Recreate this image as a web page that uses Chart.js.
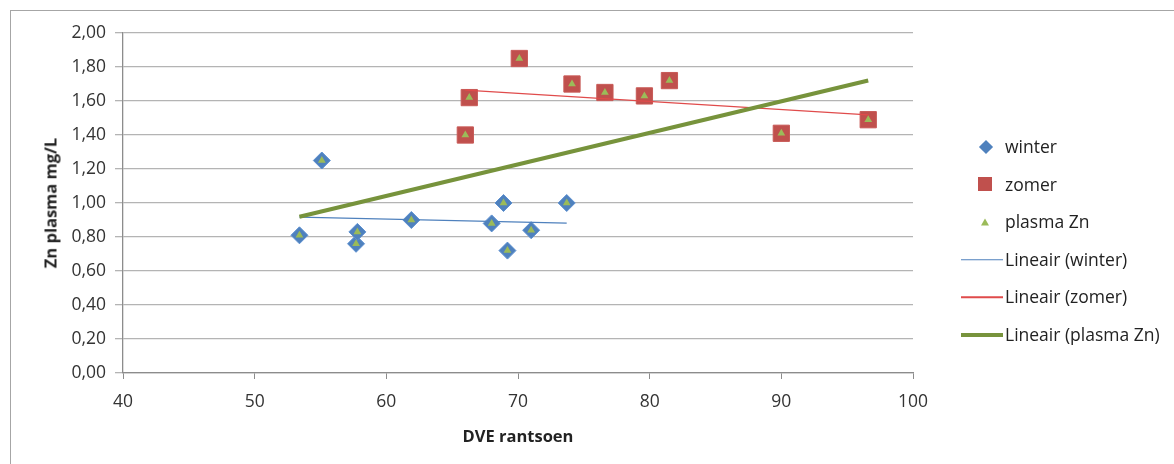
<!DOCTYPE html>
<html>
<head>
<meta charset="utf-8">
<script src="https://cdn.jsdelivr.net/npm/chart.js@4"></script>
<style>
  body { margin: 0; background: #fff; font-family: 'Open Sans', sans-serif; }
  #wrap { position: relative; width: 1174px; height: 464px; overflow: hidden; }
  #frame { position: absolute; left: 10px; top: 10px; width: 1200px; height: 500px; border: 1.5px solid #a6a6a6; }
  canvas { position: absolute; left: 0; top: 0; }
  .ytitle { position: absolute; left: 50px; top: 203px; transform: translate(-50%, -50%) rotate(-90deg);
            font-weight: bold; font-size: 16.5px; color: #222; white-space: nowrap; }
  .xtitle { position: absolute; left: 518px; top: 435px; transform: translate(-50%, -50%);
            font-weight: bold; font-size: 16.5px; color: #222; white-space: nowrap; }
  .legend { position: absolute; left: 958px; top: 128px; font-size: 17.5px; color: #222; }
  .item { position: relative; height: 37.6px; line-height: 37.6px; padding-left: 47px; white-space: nowrap; }
  .mk { position: absolute; top: 50%; }
  .diamond { left: 23px; width: 10px; height: 10px; background: #4f81bd; transform: translate(0, -50%) rotate(45deg); }
  .square { left: 20px; width: 14px; height: 14px; background: #c0504d; transform: translateY(-50%); }
  .tri { left: 23px; width: 0; height: 0; border-left: 4px solid transparent; border-right: 4px solid transparent;
         border-bottom: 7px solid #9bbb59; transform: translateY(-50%); }
  .ln { left: 3px; width: 42px; transform: translateY(-50%); }
</style>
</head>
<body>
<div id="wrap">
  <div id="frame"></div>
  <canvas id="c" width="1174" height="464"></canvas>
  <div class="ytitle">Zn plasma mg/L</div>
  <div class="xtitle">DVE rantsoen</div>
  <div class="legend">
    <div class="item"><span class="mk diamond"></span>winter</div>
    <div class="item"><span class="mk square"></span>zomer</div>
    <div class="item"><span class="mk tri"></span>plasma Zn</div>
    <div class="item"><span class="mk ln" style="height:1.5px;background:#4f81bd"></span>Lineair (winter)</div>
    <div class="item"><span class="mk ln" style="height:1.5px;background:#e04b4b"></span>Lineair (zomer)</div>
    <div class="item"><span class="mk ln" style="height:4px;background:#77933c"></span>Lineair (plasma Zn)</div>
  </div>
</div>
<script>
// DVE rantsoen (x) and Zn plasma mg/L (y)
const winterX = [53.4, 55.1, 57.7, 57.8, 61.9, 68.0, 68.9, 69.2, 71.0, 73.7];
const winterY = [0.81, 1.25, 0.76, 0.83, 0.90, 0.88, 1.00, 0.72, 0.84, 1.00];
const zomerX = [66.0, 66.3, 70.1, 74.1, 76.6, 79.6, 81.5, 90.0, 96.6];
const zomerY = [1.40, 1.62, 1.85, 1.70, 1.65, 1.63, 1.72, 1.41, 1.49];
const xTicks = [40, 50, 60, 70, 80, 90, 100];
const yTicks = [0, 0.2, 0.4, 0.6, 0.8, 1.0, 1.2, 1.4, 1.6, 1.8, 2.0];

const plasmaX = winterX.concat(zomerX);
const plasmaY = winterY.concat(zomerY);

function points(xs, ys) {
  return xs.map((x, i) => ({ x, y: ys[i] }));
}

// least squares trendline, from lowest to highest x
function trend(xs, ys) {
  const n = xs.length;
  const mx = xs.reduce((a, b) => a + b, 0) / n;
  const my = ys.reduce((a, b) => a + b, 0) / n;
  let sxy = 0, sxx = 0;
  xs.forEach((x, i) => { sxy += (x - mx) * (ys[i] - my); sxx += (x - mx) * (x - mx); });
  const b = sxy / sxx;
  const a = my - b * mx;
  const x0 = Math.min(...xs), x1 = Math.max(...xs);
  return [{ x: x0, y: a + b * x0 }, { x: x1, y: a + b * x1 }];
}

const fmt = (v) => v.toFixed(2).replace('.', ',');

new Chart(document.getElementById('c'), {
  type: 'scatter',
  data: {
    datasets: [
      {
        label: 'plasma Zn', data: points(plasmaX, plasmaY), order: 0,
        pointStyle: 'triangle', pointRadius: 4.5, backgroundColor: '#9bbb59', borderColor: '#9bbb59', borderWidth: 0
      },
      {
        label: 'Lineair (plasma Zn)', data: trend(plasmaX, plasmaY), showLine: true, order: 1,
        borderColor: '#77933c', borderWidth: 4, pointRadius: 0
      },
      {
        label: 'Lineair (winter)', data: trend(winterX, winterY), showLine: true, order: 2,
        borderColor: '#4f81bd', borderWidth: 1.3, pointRadius: 0
      },
      {
        label: 'Lineair (zomer)', data: trend(zomerX, zomerY), showLine: true, order: 3,
        borderColor: '#e04b4b', borderWidth: 1.3, pointRadius: 0
      },
      {
        label: 'winter', data: points(winterX, winterY), order: 4,
        pointStyle: 'rectRot', pointRadius: 8.5, backgroundColor: '#4f81bd', borderColor: '#5b8fd0', borderWidth: 1
      },
      {
        label: 'zomer', data: points(zomerX, zomerY), order: 5,
        pointStyle: 'rect', pointRadius: 11.5, backgroundColor: '#c0504d', borderColor: '#c85a57', borderWidth: 1
      }
    ]
  },
  options: {
    responsive: false,
    animation: false,
    devicePixelRatio: 1,
    layout: { padding: { left: 0, top: 33, right: 261, bottom: 0 } },
    plugins: { legend: { display: false }, tooltip: { enabled: false } },
    scales: {
      x: {
        type: 'linear', min: 40, max: 100,
        afterBuildTicks: (s) => { s.ticks = xTicks.map((v) => ({ value: v })); },
        afterFit: (s) => { s.height = 91; },
        border: { color: '#8c8c8c', width: 1.3 },
        grid: { drawOnChartArea: false, drawTicks: true, tickLength: 6, color: '#8c8c8c' },
        ticks: { color: '#333', font: { family: 'Open Sans', size: 17.5 }, padding: 13 }
      },
      y: {
        type: 'linear', min: 0, max: 2,
        afterBuildTicks: (s) => { s.ticks = yTicks.map((v) => ({ value: v })); },
        afterFit: (s) => { s.width = 123; },
        border: { color: '#8c8c8c', width: 1.3 },
        grid: { color: '#b4b4b4', lineWidth: 1.3, tickLength: 8 },
        ticks: { color: '#333', font: { family: 'Open Sans', size: 17.5 }, padding: 9, callback: fmt }
      }
    }
  }
});
</script>
</body>
</html>
